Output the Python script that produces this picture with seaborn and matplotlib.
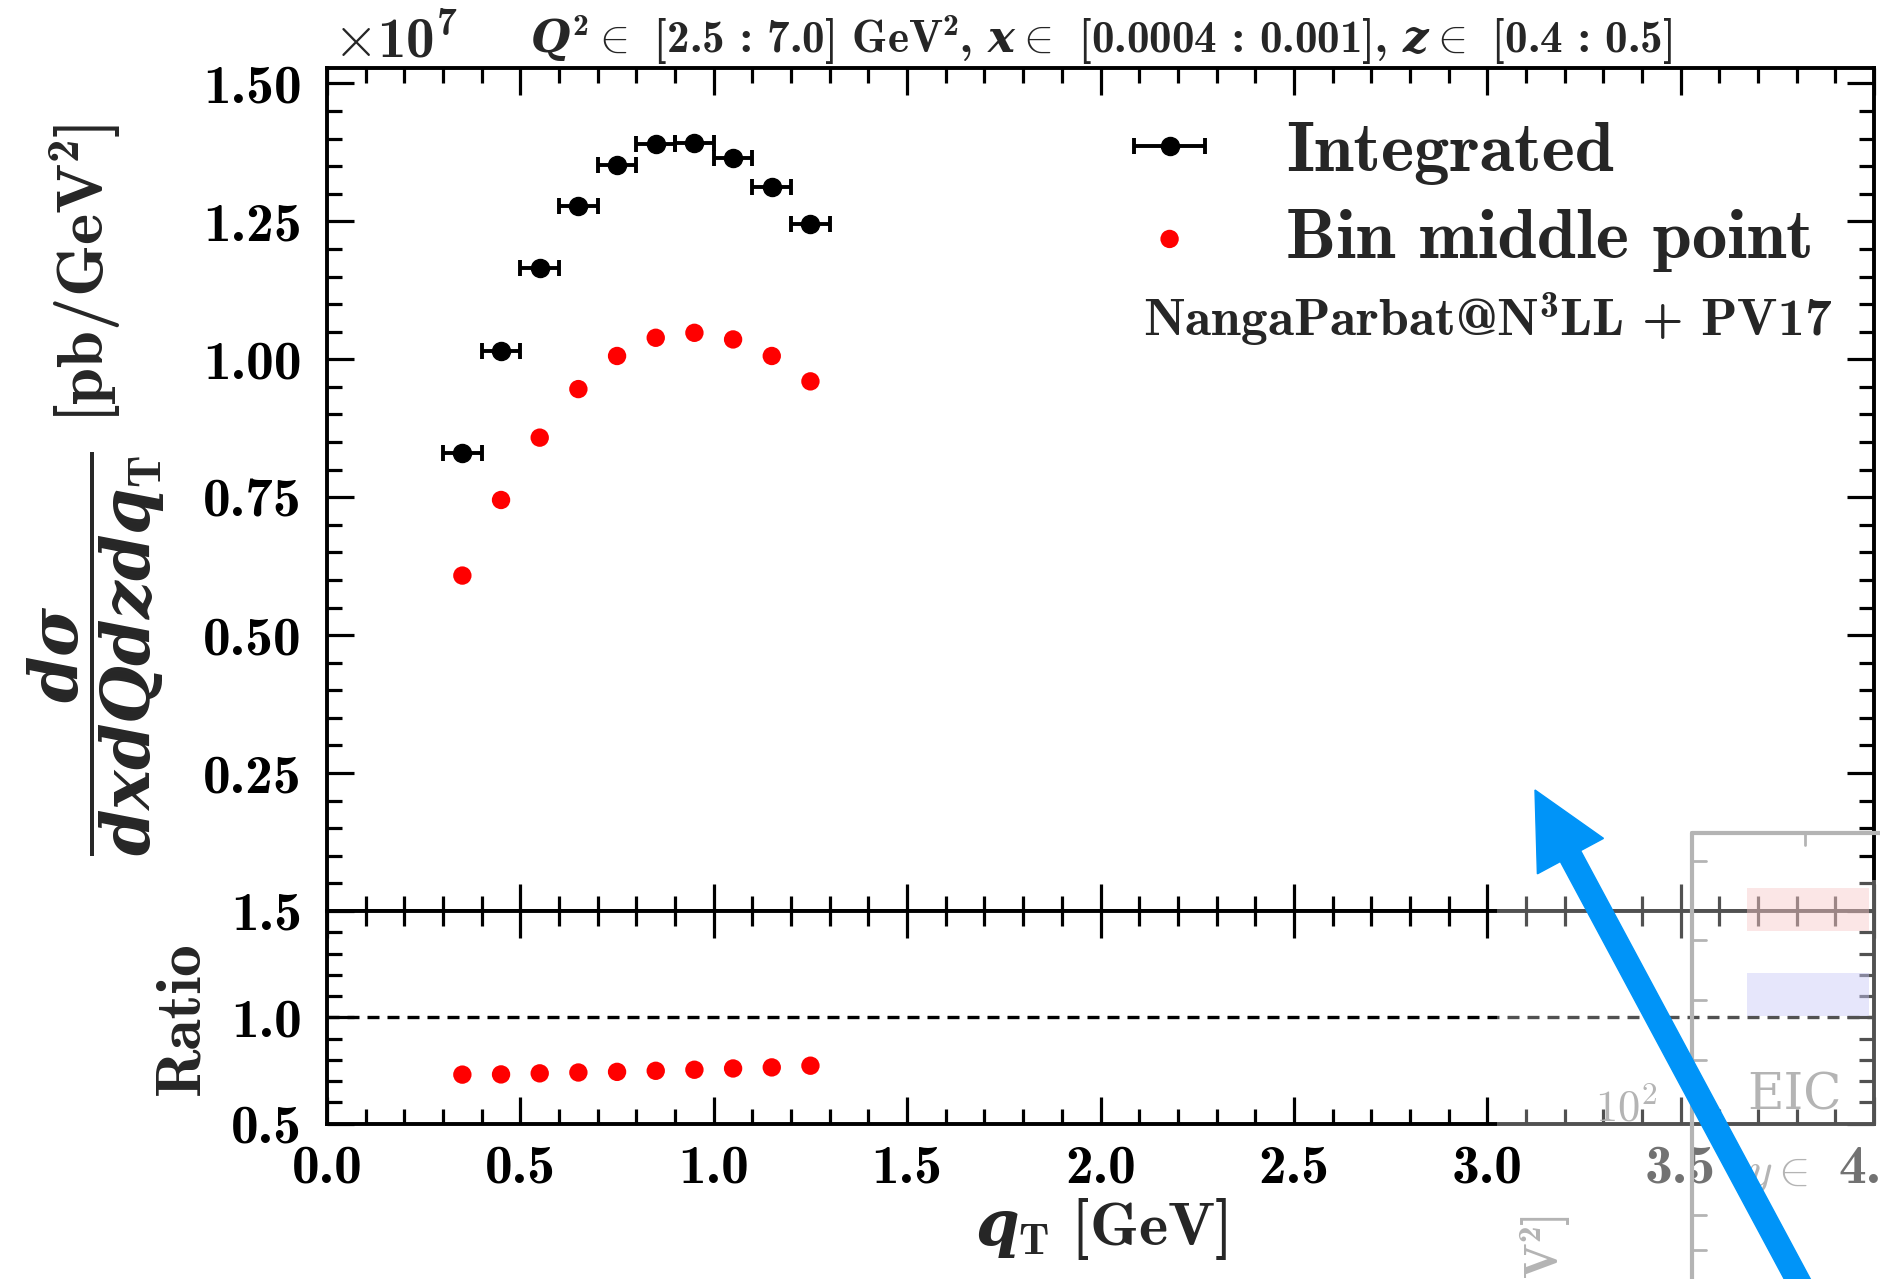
import numpy as np
import pandas as pd
import seaborn as sns
import matplotlib
matplotlib.use("Agg")
import matplotlib.pyplot as plt
from matplotlib.ticker import FixedLocator, MultipleLocator, FuncFormatter
from matplotlib.patches import FancyArrow, Rectangle
from matplotlib.transforms import IdentityTransform

# ---------------- data ----------------
qT = [0.35, 0.45, 0.55, 0.65, 0.75, 0.85, 0.95, 1.05, 1.15, 1.25]
qT_halfwidth = [0.05] * 10
integrated = [8.30e6, 1.015e7, 1.166e7, 1.277e7, 1.352e7, 1.390e7, 1.392e7, 1.365e7, 1.313e7, 1.245e7]
bin_middle = [6.08e6, 7.45e6, 8.58e6, 9.46e6, 1.006e7, 1.039e7, 1.048e7, 1.036e7, 1.006e7, 9.60e6]
ratio = [0.730, 0.731, 0.736, 0.740, 0.743, 0.748, 0.753, 0.759, 0.764, 0.772]
main_yticks = [0.25e7, 0.50e7, 0.75e7, 1.00e7, 1.25e7, 1.50e7]
ratio_yticks = [0.5, 1.0, 1.5]
xticks = [0.0, 0.5, 1.0, 1.5, 2.0, 2.5, 3.0, 3.5, 4.0]
legend_labels = ["Integrated", "Bin middle point"]

df = pd.DataFrame({"qT": qT, "integrated": integrated, "bin_middle": bin_middle, "ratio": ratio})

sns.set_theme(style="ticks")
plt.rcParams["font.family"] = ["cmb10"]
plt.rcParams["mathtext.fontset"] = "custom"
plt.rcParams["mathtext.rm"] = "cmb10"
plt.rcParams["mathtext.bf"] = "cmb10"
plt.rcParams["mathtext.it"] = "DejaVu Serif:italic:bold"
plt.rcParams["mathtext.fallback"] = "cm"
plt.rcParams["axes.formatter.use_mathtext"] = False

W, H = 1880, 1279
fig = plt.figure(figsize=(W / 100, H / 100), dpi=100)
def fx(px): return px / W
def fy(py): return 1 - py / H

L, R, T, S, B = 327, 1874, 68, 911, 1123.5
ax = fig.add_axes([fx(L), fy(S), fx(R) - fx(L), fy(T) - fy(S)])
axr = fig.add_axes([fx(L), fy(B), fx(R) - fx(L), fy(S) - fy(B)], sharex=ax)

# main panel
eb = ax.errorbar(df["qT"], df["integrated"], xerr=qT_halfwidth, fmt="o", color="black",
                 ms=13, elinewidth=2.8, capsize=5.5, capthick=2.8, zorder=3)
sns.scatterplot(data=df, x="qT", y="bin_middle", ax=ax, color="#ff0000", s=175,
                edgecolor="none", zorder=3, legend=False)
red_handle = ax.collections[-1]
ax.set_xlim(0, 4.0)
ax.set_ylim(0, 1.528e7)
ax.yaxis.set_major_locator(FixedLocator(main_yticks))
ax.yaxis.set_minor_locator(MultipleLocator(0.05e7))
ax.yaxis.set_major_formatter(FuncFormatter(lambda v, p: "%.2f" % (v / 1e7)))
ax.set_xlabel("")
ax.set_ylabel("")

# ratio panel
sns.scatterplot(data=df, x="qT", y="ratio", ax=axr, color="#ff0000", s=175,
                edgecolor="none", zorder=3, legend=False)
axr.axhline(1.0, color="black", lw=2.4, ls=(0, (3.6, 2.4)))
axr.set_ylim(0.5, 1.5)
axr.yaxis.set_major_locator(FixedLocator(ratio_yticks))
axr.yaxis.set_minor_locator(MultipleLocator(0.1))
axr.yaxis.set_major_formatter(FuncFormatter(lambda v, p: "%.1f" % v))
axr.xaxis.set_major_locator(FixedLocator(xticks))
axr.xaxis.set_minor_locator(MultipleLocator(0.1))
axr.xaxis.set_major_formatter(FuncFormatter(lambda v, p: "%.1f" % v))
axr.set_xlabel("")
axr.set_ylabel("")

for a in (ax, axr):
    a.tick_params(which="both", direction="in", top=True, right=True, labelsize=40,
                  width=2.3, colors="black")
    a.tick_params(which="major", length=19.5)
    a.tick_params(which="minor", length=10.8)
    a.tick_params(axis="y", pad=18)
    a.tick_params(axis="x", pad=15)
    for sp in a.spines.values():
        sp.set_linewidth(2.8)
        sp.set_color("black")
ax.tick_params(labelbottom=False)

# legend
leg = ax.legend([eb, red_handle], legend_labels,
                loc="upper left", frameon=False, fontsize=51, handlelength=0.92,
                handletextpad=1.18, labelspacing=0.33, borderaxespad=0, borderpad=0,
                bbox_to_anchor=(fx(1137), fy(121)), bbox_transform=fig.transFigure)

fig.text(fx(1832), fy(337), r"NangaParbat@N$^{3}$LL + PV17", ha="right",
         va="baseline", fontsize=38.5)

# titles / labels
title = r"$Q^{2}\in$ [2.5 : 7.0] GeV$^{2}$, $x\in$ [0.0004 : 0.001], $z\in$ [0.4 : 0.5]"
fig.text(fx(1101), fy(53), title, ha="center", va="baseline", fontsize=32.5)
fig.text(fx(333), fy(57), r"$\times\mathregular{10^{7}}$", ha="left", va="baseline",
         fontsize=41, math_fontfamily="cm")

ylab = r"$\dfrac{d\sigma}{dxdQdzdq_{\mathrm{T}}}$ [pb/GeV$^{2}$]"
fig.text(fx(96), fy(490), ylab, rotation=90, ha="center", va="center", fontsize=48)
fig.text(fx(182), fy(1018), "Ratio", rotation=90, ha="center", va="center", fontsize=46)
fig.text(fx(1101), fy(1229), r"$q_{\mathrm{T}}$ [GeV]", ha="center",
         va="center", fontsize=45)

# ---- overlay artefact (pasted screenshot + arrow) ----
def disp(xp, yp):
    return xp, H - yp
idt = IdentityTransform()
fig.patches.append(Rectangle(disp(1497, 1130), W - 1497, 1130 - 880, transform=idt,
                             facecolor="white", alpha=0.32, edgecolor="none", zorder=5))
fig.patches.append(Rectangle(disp(1540, 1279), W - 1540, 1279 - 1130, transform=idt,
                             facecolor="white", alpha=0.45, edgecolor="none", zorder=5))
grey = "#b4b4b4"
fig.lines.append(plt.Line2D([1692, 1692], [H - 833, 0], transform=idt, color=grey, lw=3, zorder=6))
fig.lines.append(plt.Line2D([1692, W], [H - 833, H - 833], transform=idt, color=grey, lw=3, zorder=6))
for yy in [861, 940, 1000, 1060, 1215, 1250]:
    fig.lines.append(plt.Line2D([1692, 1706], [H - yy, H - yy], transform=idt, color=grey, lw=2, zorder=6))
fig.lines.append(plt.Line2D([1805, 1805], [H - 833, H - 845], transform=idt, color=grey, lw=2, zorder=6))
fig.patches.append(Rectangle(disp(1747, 931), 1869 - 1747, 931 - 888, transform=idt,
                             facecolor="#f8c8c8", alpha=0.45, edgecolor="none", zorder=6))
fig.patches.append(Rectangle(disp(1747, 1016), 1869 - 1747, 1016 - 973, transform=idt,
                             facecolor="#c8c8f8", alpha=0.45, edgecolor="none", zorder=6))
fig.text(fx(1747), fy(1110), "EIC", color=grey, fontsize=36, ha="left", va="baseline",
         zorder=6, family=["DejaVu Serif"])
fig.text(fx(1595), fy(1122), r"$10^{2}$", color=grey, fontsize=32, ha="left", va="baseline",
         zorder=6, math_fontfamily="cm")
fig.text(fx(1747), fy(1185), r"$y\in$", color=grey, fontsize=34, ha="left", va="baseline",
         zorder=6, math_fontfamily="cm")
fig.text(fx(1545), fy(1279), r"V$^{2}$]", color=grey, fontsize=34, rotation=90,
         ha="center", va="bottom", zorder=6)
arrow = FancyArrow(1808, -20, 1535 - 1808, (H - 790) + 20, width=23, head_width=75,
                   head_length=75, length_includes_head=True, color="#0094f8",
                   transform=idt, zorder=7)
fig.patches.append(arrow)

fig.savefig("out.png", dpi=100)
